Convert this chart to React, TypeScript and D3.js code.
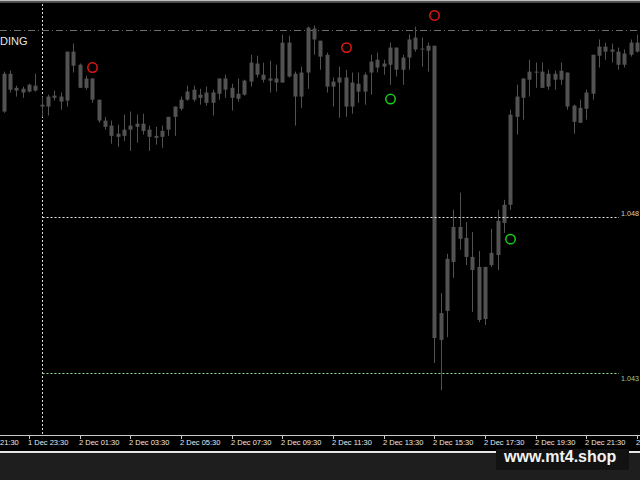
import React, { useEffect } from "react";
import * as d3 from "d3";

// 15-minute candles, from 1 Dec 22:30 to 2 Dec 23:30
const opens = [
  1.05138, 1.05259, 1.05205, 1.05211, 1.05202, 1.05221, 1.0516, 1.05154, 1.05182, 1.05186,
  1.05173, 1.0533, 1.05288, 1.05214, 1.05244, 1.05176, 1.05109, 1.05093, 1.05057, 1.0506,
  1.0508, 1.05089, 1.05099, 1.0508, 1.0506, 1.05057, 1.0508, 1.05121, 1.05147, 1.05176,
  1.05208, 1.05182, 1.05199, 1.05166, 1.05195, 1.05244, 1.05214, 1.05179, 1.05192, 1.05234,
  1.05292, 1.05256, 1.05237, 1.05244, 1.05231, 1.05359, 1.05259, 1.05186, 1.05263, 1.05404,
  1.05365, 1.0532, 1.05218, 1.05231, 1.05247, 1.05154, 1.05227, 1.05202, 1.05263, 1.05304,
  1.05282, 1.05288, 1.05343, 1.05272, 1.05311, 1.05375, 1.05337, 1.05333, 1.05349, 1.04406,
  1.04499, 1.04656, 1.04768, 1.04733, 1.04672, 1.0464, 1.04473, 1.04646, 1.04678, 1.04781,
  1.04839, 1.05121, 1.05182, 1.0524, 1.05266, 1.05266, 1.05218, 1.05259, 1.0524, 1.05263,
  1.05157, 1.05102, 1.05147, 1.05195, 1.05317, 1.05346, 1.0533, 1.0533, 1.05288, 1.0532,
  1.05359,
];
const highs = [
  1.05266, 1.05269, 1.05221, 1.05218, 1.05227, 1.05259, 1.05186, 1.05192, 1.05205, 1.05199,
  1.0533, 1.05356, 1.05292, 1.05253, 1.05244, 1.05176, 1.05121, 1.05109, 1.05096, 1.05128,
  1.05138, 1.05128, 1.05131, 1.05093, 1.05089, 1.05093, 1.05121, 1.05154, 1.05186, 1.05221,
  1.05221, 1.05211, 1.05218, 1.05208, 1.05244, 1.05256, 1.05227, 1.05244, 1.0524, 1.0532,
  1.05317, 1.05295, 1.05301, 1.05288, 1.05385, 1.05381, 1.05266, 1.05282, 1.0541, 1.05414,
  1.05365, 1.05327, 1.05247, 1.05282, 1.05272, 1.05263, 1.05263, 1.05263, 1.0532, 1.05327,
  1.05304, 1.05359, 1.05343, 1.0532, 1.05385, 1.0541, 1.05375, 1.05359, 1.05349, 1.04556,
  1.04682, 1.04823, 1.04878, 1.04784, 1.04752, 1.04691, 1.0464, 1.04762, 1.04823, 1.04855,
  1.05144, 1.05224, 1.05244, 1.05304, 1.05295, 1.05295, 1.05272, 1.05269, 1.05295, 1.05263,
  1.0516, 1.05176, 1.05208, 1.0532, 1.05369, 1.05359, 1.05356, 1.05343, 1.05337, 1.05369,
  1.05385,
];
const lows = [
  1.05134, 1.05199, 1.05186, 1.05182, 1.05199, 1.05202, 1.05121, 1.05125, 1.05173, 1.05144,
  1.05154, 1.05263, 1.05214, 1.05208, 1.05166, 1.05102, 1.0508, 1.05035, 1.05025, 1.05044,
  1.05012, 1.05038, 1.05064, 1.05012, 1.05032, 1.05022, 1.0506, 1.0506, 1.05141, 1.05173,
  1.0517, 1.0516, 1.05157, 1.05125, 1.05176, 1.05182, 1.05141, 1.0517, 1.05189, 1.05218,
  1.05247, 1.05231, 1.05199, 1.05202, 1.05231, 1.05247, 1.05093, 1.0515, 1.05211, 1.0532,
  1.05272, 1.05199, 1.05154, 1.05118, 1.05121, 1.05131, 1.05166, 1.0516, 1.05192, 1.05263,
  1.05256, 1.05224, 1.0525, 1.05224, 1.05272, 1.0533, 1.05282, 1.05266, 1.04332, 1.04245,
  1.04415, 1.04605, 1.04695, 1.04646, 1.04496, 1.04463, 1.04454, 1.0464, 1.0463, 1.04749,
  1.04823, 1.05064, 1.05112, 1.05186, 1.05214, 1.05214, 1.05208, 1.05208, 1.05224, 1.05144,
  1.05067, 1.05102, 1.05112, 1.05176, 1.05279, 1.05304, 1.05295, 1.05272, 1.05279, 1.05314,
  1.05327,
];
const closes = [
  1.05259, 1.05208, 1.05214, 1.05199, 1.05224, 1.05205, 1.05154, 1.05186, 1.05189, 1.0517,
  1.0533, 1.05285, 1.05214, 1.05244, 1.05176, 1.05109, 1.05089, 1.0506, 1.05067, 1.0508,
  1.05093, 1.05099, 1.05076, 1.05057, 1.05054, 1.05076, 1.05121, 1.05154, 1.05176, 1.05202,
  1.05176, 1.05192, 1.05166, 1.05199, 1.05244, 1.05208, 1.05182, 1.05195, 1.05237, 1.05295,
  1.05256, 1.0524, 1.05244, 1.05231, 1.05359, 1.0525, 1.05186, 1.05263, 1.05407, 1.05369,
  1.05314, 1.05218, 1.05234, 1.05247, 1.05154, 1.05231, 1.05202, 1.05256, 1.05298, 1.05279,
  1.05292, 1.05343, 1.05272, 1.05311, 1.05369, 1.05337, 1.0534, 1.05349, 1.04412, 1.04492,
  1.04666, 1.04768, 1.0473, 1.04672, 1.0463, 1.0447, 1.0464, 1.04685, 1.04788, 1.04839,
  1.05128, 1.05186, 1.05244, 1.05266, 1.05263, 1.05214, 1.05259, 1.0524, 1.05269, 1.05154,
  1.05105, 1.0515, 1.05199, 1.0532, 1.05346, 1.0533, 1.05337, 1.05288, 1.05324, 1.05359,
  1.0533,
];

// time axis labels and the bar index they sit on
const timeLabels = [
  "21:30", "1 Dec 23:30", "2 Dec 01:30", "2 Dec 03:30", "2 Dec 05:30", "2 Dec 07:30",
  "2 Dec 09:30", "2 Dec 11:30", "2 Dec 13:30", "2 Dec 15:30", "2 Dec 17:30", "2 Dec 19:30",
  "2 Dec 21:30", "2",
];
const timeLabelBars = [-4, 4, 12, 20, 28, 36, 44, 52, 60, 68, 76, 84, 92, 100];
const daySeparatorBar = 6;

// signal circles
const sellSignalBars = [14, 54, 68];
const sellSignalPrices = [1.05279, 1.05343, 1.05446];
const buySignalBars = [61, 80];
const buySignalPrices = [1.05178, 1.04729];

// horizontal levels
const levelPrices = [1.048, 1.043];
const levelLabels = ["1.048", "1.043"];
const topLevelPrice = 1.05398;
const indicatorLabel = "DING";

export default function App() {
  useEffect(() => {
    document.body.style.margin = "0";
    document.body.style.background = "#000";
  }, []);

  const W = 640;
  const H = 480;
  const plotBottom = 435;
  const font = "Liberation Sans, Arial, sans-serif";

  const x = d3.scaleLinear().domain([0, 100]).range([3.67, 637]);
  const y = d3.scaleLinear().domain([1.043, 1.048]).range([373, 217]);

  const candleColor = "#525252";
  const sepX = Math.round(x(daySeparatorBar)) + 0.5;

  return (
    <svg width={W} height={H} style={{ position: "fixed", left: 0, top: 0, display: "block" }}>
      <rect x={0} y={0} width={W} height={H} fill="#000" />
      {/* top frame */}
      <rect x={0} y={0} width={W} height={1.5} fill="#bdbdbd" />
      <rect x={0} y={1.5} width={W} height={1.5} fill="#4a4a4a" />

      <defs>
        <clipPath id="plot">
          <rect x={0} y={3} width={W} height={plotBottom - 3} />
        </clipPath>
      </defs>

      {/* day separator */}
      <line x1={sepX} x2={sepX} y1={4} y2={plotBottom} stroke="#dcdcdc" strokeDasharray="2,2" strokeWidth={1} />

      {/* top dash-dot level */}
      <line
        x1={0}
        x2={W}
        y1={Math.round(y(topLevelPrice)) + 0.5}
        y2={Math.round(y(topLevelPrice)) + 0.5}
        stroke="#6e6e6e"
        strokeDasharray="7,3,1,3"
      />

      <text x={0} y={45} fontFamily={font} fontSize={11} fill="#e6e6e6">
        {indicatorLabel}
      </text>

      {/* candles */}
      <g clipPath="url(#plot)">
        {opens.map((o, i) => {
          const cx = Math.round(x(i));
          const c = closes[i];
          const top = y(Math.max(o, c));
          const bot = y(Math.min(o, c));
          return (
            <g key={i}>
              <line x1={cx + 0.5} x2={cx + 0.5} y1={y(highs[i])} y2={y(lows[i])} stroke={candleColor} strokeWidth={1} />
              <rect x={cx - 1.5} y={top} width={4} height={Math.max(1, bot - top)} fill={candleColor} />
            </g>
          );
        })}
      </g>

      {/* horizontal levels */}
      {levelPrices.map((p, k) => {
        const ly = Math.round(y(p)) + 0.5;
        const col = k === 0 ? "#e0e0e0" : "#8fe08f";
        return (
          <g key={k}>
            <line x1={sepX} x2={619} y1={ly} y2={ly} stroke={col} strokeDasharray="2,2" />
            <text
              x={621}
              y={k === 0 ? ly - 2 : ly + 7}
              fontFamily={font}
              fontSize={7.2}
              fill={k === 0 ? "#d8d2c4" : "#9ccf9c"}
            >
              {levelLabels[k]}
            </text>
          </g>
        );
      })}

      {/* signals */}
      {sellSignalBars.map((b, k) => (
        <circle key={"s" + k} cx={Math.round(x(b)) + 0.5} cy={y(sellSignalPrices[k])} r={4.7} fill="none" stroke="#e01818" strokeWidth={1.5} />
      ))}
      {buySignalBars.map((b, k) => (
        <circle key={"b" + k} cx={Math.round(x(b)) + 0.5} cy={y(buySignalPrices[k])} r={4.7} fill="none" stroke="#18d018" strokeWidth={1.5} />
      ))}

      {/* time axis */}
      <line x1={0} x2={W} y1={plotBottom + 0.5} y2={plotBottom + 0.5} stroke="#c8c8c8" />
      {timeLabels.map((t, k) => {
        const tx = Math.round(x(timeLabelBars[k])) + 0.5;
        const first = k === 0;
        return (
          <g key={t + k}>
            <line x1={tx} x2={tx} y1={plotBottom} y2={plotBottom + 4} stroke="#c8c8c8" />
            <text
              x={first ? 0 : tx - 1.5}
              y={445}
              fontFamily={font}
              fontSize={7.5}
              fill="#e8e8e8"
            >
              {t}
            </text>
          </g>
        );
      })}

      {/* bottom panel */}
      <rect x={0} y={451} width={W} height={2} fill="#e6e6e6" />
      <rect x={0} y={453} width={W} height={H - 453} fill="#1e1e1e" />

      {/* watermark */}
      <rect x={496} y={449} width={133} height={21} fill="#121212" rx={1} />
      <text x={504} y={462} fontFamily={font} fontWeight="bold" fontSize={16} fill="#f2f2f2">
        www.mt4.shop
      </text>
    </svg>
  );
}
